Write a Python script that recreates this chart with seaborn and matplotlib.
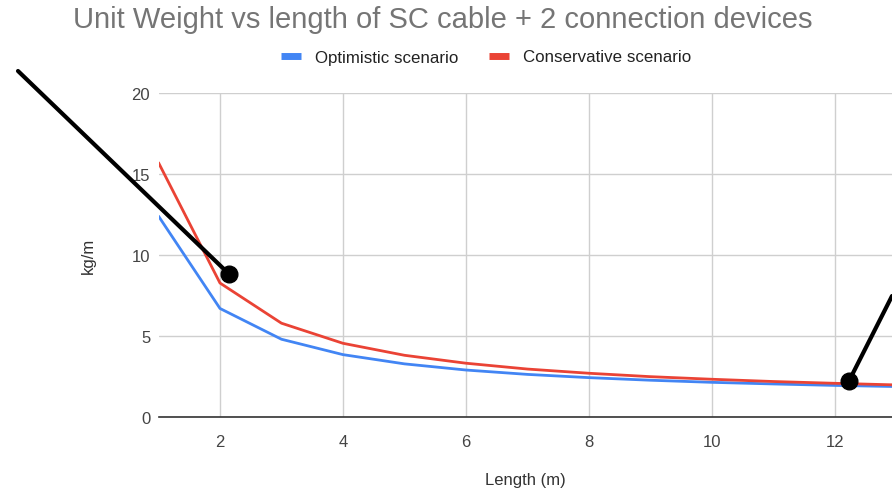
import matplotlib
matplotlib.use("Agg")
import matplotlib.pyplot as plt
from matplotlib.lines import Line2D
import seaborn as sns
import pandas as pd

length_m = [1, 2, 3, 4, 5, 6, 7, 8, 9, 10, 11, 12, 13]
optimistic = [12.4, 6.7, 4.8, 3.85, 3.28, 2.9, 2.63, 2.43, 2.27, 2.14, 2.04, 1.95, 1.88]
conservative = [15.7, 8.27, 5.79, 4.55, 3.81, 3.32, 2.96, 2.7, 2.49, 2.33, 2.19, 2.08, 1.98]
series_names = ["Optimistic scenario", "Conservative scenario"]
x_ticks = [2, 4, 6, 8, 10, 12]
y_ticks = [0, 5, 10, 15, 20]

df = pd.DataFrame({
    "Length (m)": length_m * 2,
    "kg/m": optimistic + conservative,
    "Scenario": [series_names[0]] * len(length_m) + [series_names[1]] * len(length_m),
})

sns.set_theme(style="white")
plt.rcParams["font.family"] = ["Liberation Sans", "DejaVu Sans"]

W, H = 892, 489
fig = plt.figure(figsize=(W / 100, H / 100), dpi=100)
ax = fig.add_axes([158.5 / W, 1 - 418 / H, (W - 158.5) / W, (418 - 94) / H])

palette = {series_names[0]: "#4285F4", series_names[1]: "#EA4335"}
sns.lineplot(data=df, x="Length (m)", y="kg/m", hue="Scenario", palette=palette,
             linewidth=2, ax=ax, legend=False)

ax.set_xlim(1, 12.93)
ax.set_ylim(0, 20)
ax.set_xticks(x_ticks)
ax.set_yticks(y_ticks)
ax.grid(True, color="#cfcfcf", linewidth=1)
ax.set_axisbelow(True)
for s in ["top", "right", "left"]:
    ax.spines[s].set_visible(False)
ax.spines["bottom"].set_color("#333333")
ax.spines["bottom"].set_linewidth(1.2)
ax.tick_params(axis="both", length=0, labelsize=12, labelcolor="#444444")
ax.tick_params(axis="y", pad=6)
ax.tick_params(axis="x", pad=12)
ax.set_xlabel("Length (m)", fontsize=12, color="#333333", labelpad=17)
ax.set_ylabel("kg/m", fontsize=12, color="#333333", labelpad=26)

fig.text(443 / W, 1 - 20 / H, "Unit Weight vs length of SC cable + 2 connection devices",
         ha="center", va="center", fontsize=21, color="#757575")

handles = [Line2D([], [], color=palette[n], linewidth=5, solid_capstyle="butt")
           for n in series_names]
fig.legend(handles, series_names, loc="center", bbox_to_anchor=(486 / W, 1 - 58 / H),
           ncol=2, frameon=False, fontsize=12.2, handlelength=1.2, handletextpad=0.8,
           columnspacing=1.8, labelcolor="#222222")

# black annotation pointers
def px(x, y):
    return (x / W, 1 - y / H)

a0, a1 = px(18, 72), px(229, 275)
fig.add_artist(Line2D([a0[0], a1[0]], [a0[1], a1[1]], color="black", linewidth=3,
                      transform=fig.transFigure))
fig.add_artist(Line2D([a1[0]], [a1[1]], marker="o", markersize=12, color="black",
                      transform=fig.transFigure))
b0, b1 = px(892, 297), px(849, 382)
fig.add_artist(Line2D([b0[0], b1[0]], [b0[1], b1[1]], color="black", linewidth=3,
                      transform=fig.transFigure))
fig.add_artist(Line2D([b1[0]], [b1[1]], marker="o", markersize=12, color="black",
                      transform=fig.transFigure))

fig.savefig("out.png", dpi=100)
